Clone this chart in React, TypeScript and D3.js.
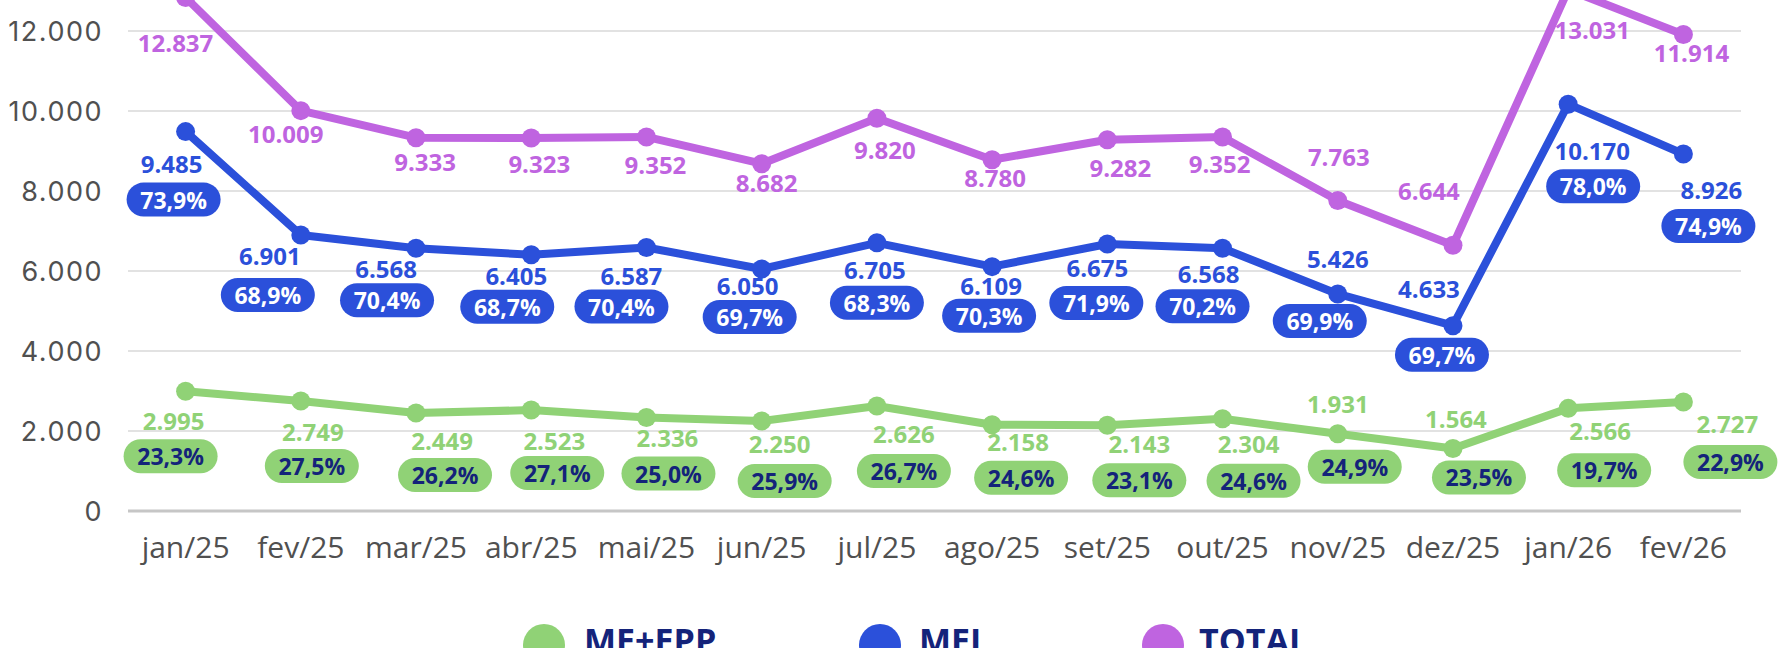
import React from "react";
import * as d3 from "d3";

// ---------- data ----------
const months = ["jan/25", "fev/25", "mar/25", "abr/25", "mai/25", "jun/25", "jul/25", "ago/25", "set/25", "out/25", "nov/25", "dez/25", "jan/26", "fev/26"];
const totalValues = [12837, 10009, 9333, 9323, 9352, 8682, 9820, 8780, 9282, 9352, 7763, 6644, 13031, 11914];
const meiValues = [9485, 6901, 6568, 6405, 6587, 6050, 6705, 6109, 6675, 6568, 5426, 4633, 10170, 8926];
const meEppValues = [2995, 2749, 2449, 2523, 2336, 2250, 2626, 2158, 2143, 2304, 1931, 1564, 2566, 2727];
const meiShare = [73.9, 68.9, 70.4, 68.7, 70.4, 69.7, 68.3, 70.3, 71.9, 70.2, 69.9, 69.7, 78.0, 74.9];
const meEppShare = [23.3, 27.5, 26.2, 27.1, 25.0, 25.9, 26.7, 24.6, 23.1, 24.6, 24.9, 23.5, 19.7, 22.9];
const yTicks = [0, 2000, 4000, 6000, 8000, 10000, 12000];
const seriesNames = ["ME+EPP", "MEI", "TOTAL"];

// ---------- label placement (relative nudges from each point, px) ----------
const totalNudge: [number, number][] = [[-10, 54], [-15, 32], [9, 33], [8, 35], [9, 37], [5, 28], [8, 41], [3, 27], [13, 37], [-3, 36], [1, -34], [-24, -45], [24, 49], [8, 28]];
const meiNudge: [number, number][] = [[-14, 41], [-31, 30], [-30, 30], [-15, 30], [-15, 37], [-14, 26], [-2, 36], [-1, 28], [-10, 33], [-14, 35], [0, -26], [-24, -28], [24, 56], [28, 45]];
const meiPillNudge: [number, number][] = [[-12, 68], [-33, 60], [-29, 52], [-24, 52], [-25, 59], [-12, 48], [0, 60], [-3, 49], [-11, 59], [-20, 58], [-18, 27], [-11, 29], [25, 82], [25, 72]];
const epNudge: [number, number][] = [[-12, 39], [12, 40], [26, 37], [23, 40], [21, 29], [18, 32], [27, 37], [26, 26], [32, 28], [26, 34], [0, -21], [3, -20], [32, 32], [44, 31]];
const epPillNudge: [number, number][] = [[-15, 65], [11, 65], [29, 62], [26, 63], [22, 56], [23, 60], [27, 65], [29, 53], [32, 55], [31, 62], [17, 33], [26, 29], [36, 62], [47, 60]];

const W = 1778;
const H = 648;
const PURPLE = "#BF64E0";
const BLUE = "#2B50DA";
const GREEN = "#90D276";
const NAVY = "#14237A";
const GRAY = "#505050";
const FONT = "'Open Sans', sans-serif";

const fmtInt = (v: number) => d3.format(",")(v).replace(/,/g, ".");
const fmtPct = (v: number) => v.toFixed(1).replace(".", ",") + "%";

export default function App() {
  const x = d3.scaleBand<string>().domain(months).range([128, 1741]).padding(0);
  const y = d3.scaleLinear().domain([0, 14000]).range([511, -49]);
  const cx = (i: number) => (x(months[i]) as number) + x.bandwidth() / 2;
  const line = d3
    .line<number>()
    .x((_, i) => cx(i))
    .y((d) => y(d));

  const series = [
    { name: seriesNames[0], values: meEppValues, color: GREEN },
    { name: seriesNames[1], values: meiValues, color: BLUE },
    { name: seriesNames[2], values: totalValues, color: PURPLE },
  ];

  const pillW = 94;
  const pillH = 34;

  const legendItems = [
    { name: seriesNames[0], color: GREEN, cx: 544, tx: 584 },
    { name: seriesNames[1], color: BLUE, cx: 880, tx: 919 },
    { name: seriesNames[2], color: PURPLE, cx: 1163, tx: 1199 },
  ];

  return (
    <svg
      width={W}
      height={H}
      viewBox={`0 0 ${W} ${H}`}
      style={{ position: "absolute", left: 0, top: 0, background: "#fff" }}
      fontFamily={FONT}
    >
      <rect x={0} y={0} width={W} height={H} fill="#fff" />
      {/* gridlines */}
      {yTicks.map((t) => (
        <line
          key={t}
          x1={128}
          x2={1741}
          y1={y(t)}
          y2={y(t)}
          stroke={t === 0 ? "#c6c6c6" : "#e2e2e2"}
          strokeWidth={t === 0 ? 3 : 2}
        />
      ))}
      {/* y axis labels */}
      {yTicks.map((t) => (
        <text
          key={"yl" + t}
          x={103}
          y={y(t)}
          textAnchor="end"
          dominantBaseline="central"
          fontFamily="Inter, sans-serif"
          fontSize={27}
          letterSpacing={1.5}
          fill={GRAY}
        >
          {fmtInt(t)}
        </text>
      ))}
      {/* x axis labels */}
      {months.map((m, i) => (
        <text key={m} x={cx(i)} y={558} textAnchor="middle" fontSize={30} fill={GRAY}>
          {m}
        </text>
      ))}
      {/* lines */}
      {series.map((s) => (
        <g key={s.name}>
          <path d={line(s.values) || ""} fill="none" stroke={s.color} strokeWidth={8} strokeLinejoin="round" />
          {s.values.map((v, i) => (
            <circle key={i} cx={cx(i)} cy={y(v)} r={9.5} fill={s.color} />
          ))}
        </g>
      ))}
      {/* TOTAL labels */}
      {totalValues.map((v, i) => (
        <text
          key={"tl" + i}
          x={cx(i) + totalNudge[i][0]}
          y={y(v) + totalNudge[i][1]}
          textAnchor="middle"
          fontSize={24}
          fontWeight={700}
          fill={PURPLE}
        >
          {fmtInt(v)}
        </text>
      ))}
      {/* MEI labels */}
      {meiValues.map((v, i) => (
        <g key={"ml" + i}>
          <text
            x={cx(i) + meiNudge[i][0]}
            y={y(v) + meiNudge[i][1]}
            textAnchor="middle"
            fontSize={24}
            fontWeight={700}
            fill={BLUE}
          >
            {fmtInt(v)}
          </text>
          <rect
            x={cx(i) + meiPillNudge[i][0] - pillW / 2}
            y={y(v) + meiPillNudge[i][1] - pillH / 2}
            width={pillW}
            height={pillH}
            rx={pillH / 2}
            fill={BLUE}
          />
          <text
            x={cx(i) + meiPillNudge[i][0]}
            y={y(v) + meiPillNudge[i][1]}
            textAnchor="middle"
            dominantBaseline="central"
            fontSize={23}
            fontWeight={700}
            fill="#fff"
          >
            {fmtPct(meiShare[i])}
          </text>
        </g>
      ))}
      {/* ME+EPP labels */}
      {meEppValues.map((v, i) => (
        <g key={"el" + i}>
          <text
            x={cx(i) + epNudge[i][0]}
            y={y(v) + epNudge[i][1]}
            textAnchor="middle"
            fontSize={24}
            fontWeight={700}
            fill={GREEN}
          >
            {fmtInt(v)}
          </text>
          <rect
            x={cx(i) + epPillNudge[i][0] - pillW / 2}
            y={y(v) + epPillNudge[i][1] - pillH / 2}
            width={pillW}
            height={pillH}
            rx={pillH / 2}
            fill={GREEN}
          />
          <text
            x={cx(i) + epPillNudge[i][0]}
            y={y(v) + epPillNudge[i][1]}
            textAnchor="middle"
            dominantBaseline="central"
            fontSize={23}
            fontWeight={700}
            fill={NAVY}
          >
            {fmtPct(meEppShare[i])}
          </text>
        </g>
      ))}
      {/* legend */}
      {legendItems.map((l) => (
        <g key={"lg" + l.name}>
          <circle cx={l.cx} cy={645} r={21} fill={l.color} />
          <text x={l.tx} y={653} fontSize={34} fontWeight={700} fill={NAVY}>
            {l.name}
          </text>
        </g>
      ))}
    </svg>
  );
}
